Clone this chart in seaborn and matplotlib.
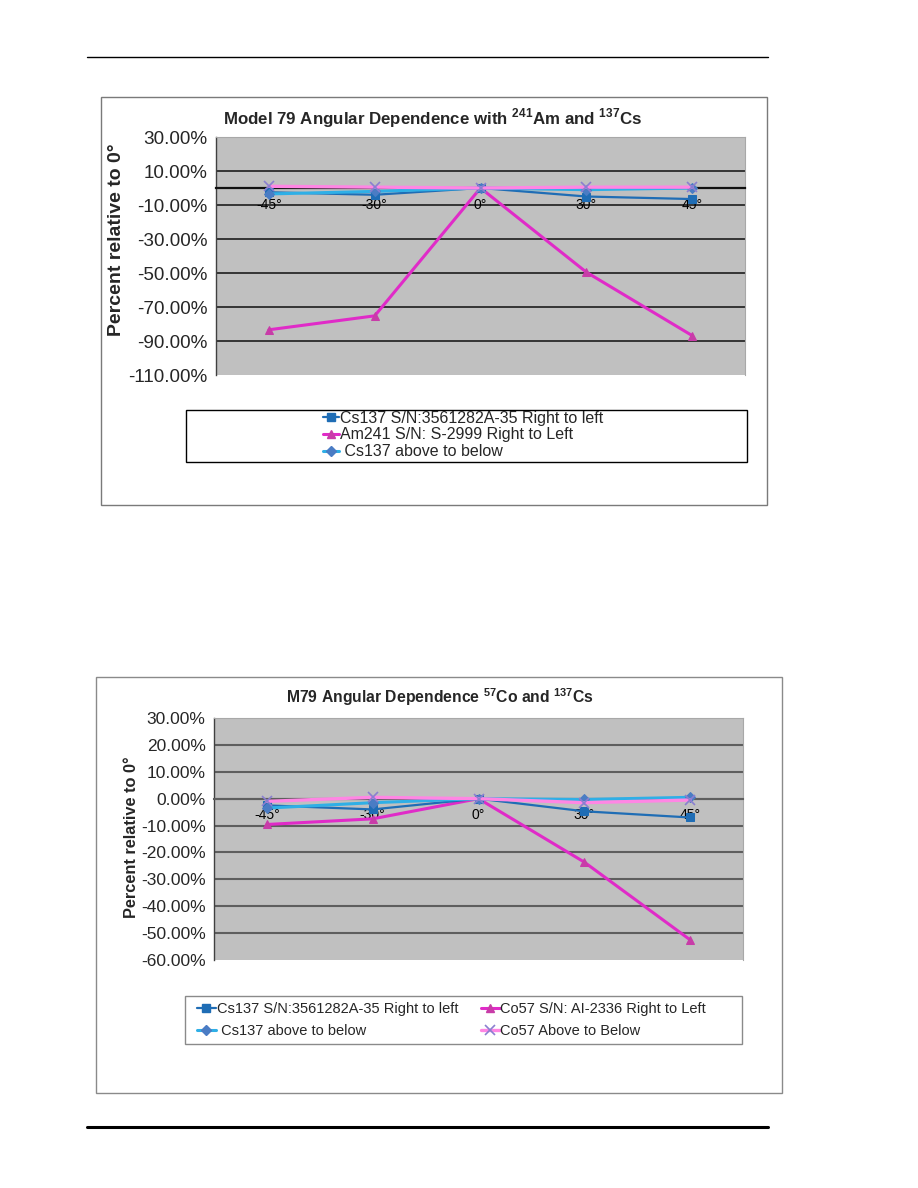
import numpy as np
import pandas as pd
import matplotlib
matplotlib.use("Agg")
import matplotlib.pyplot as plt
import seaborn as sns
from matplotlib.patches import Rectangle
from matplotlib.lines import Line2D

# ---------------- data ----------------
angles = ["-45°", "-30°", "0°", "30°", "45°"]

top_cs137_rl = [-2.5, -4.0, 0.0, -5.0, -6.5]
top_am241_rl = [-83.4, -75.2, 0.0, -49.5, -86.8]
top_cs137_ab = [-3.5, -2.0, 0.0, -1.0, 0.0]
top_co57_ab = [1.0, 0.5, 0.0, 0.5, 0.5]

bot_cs137_rl = [-2.5, -4.0, 0.0, -4.7, -7.0]
bot_co57_rl = [-9.6, -7.5, 0.0, -23.6, -52.5]
bot_cs137_ab = [-3.5, -1.5, 0.0, -0.3, 0.5]
bot_co57_ab = [-1.0, 0.5, 0.0, -1.5, -0.5]

top_yticks = [-110, -90, -70, -50, -30, -10, 10, 30]
bot_yticks = [-60, -50, -40, -30, -20, -10, 0, 10, 20, 30]

top_title = r"Model 79 Angular Dependence with $^{\mathbf{241}}$Am and $^{\mathbf{137}}$Cs"
bot_title = r"M79 Angular Dependence $^{\mathbf{57}}$Co and $^{\mathbf{137}}$Cs"
ylabel = "Percent relative to 0°"

top_labels = ["Cs137 S/N:3561282A-35 Right to left",
              "Am241 S/N: S-2999 Right to Left",
              " Cs137 above to below"]
bot_labels = ["Cs137 S/N:3561282A-35 Right to left",
              " Cs137 above to below",
              "Co57 S/N: AI-2336 Right to Left",
              "Co57 Above to Below"]

# ---------------- style ----------------
sns.set_style("white")
plt.rcParams["font.family"] = ["Liberation Sans", "DejaVu Sans"]
plt.rcParams["mathtext.fontset"] = "custom"
plt.rcParams["mathtext.rm"] = "Liberation Sans"
plt.rcParams["mathtext.bf"] = "Liberation Sans:bold"

DARKBLUE = "#1F6DB5"
MAGENTA = "#E02BC8"
LIGHTBLUE = "#2FAFE6"
PINK = "#FF86E4"

sty_rl = dict(color=DARKBLUE, marker="s", markersize=5.5, markerfacecolor=DARKBLUE,
              markeredgecolor=DARKBLUE, lw=1.6)
sty_mag = dict(color=MAGENTA, marker="^", markersize=6, markerfacecolor="#C83CA8",
               markeredgecolor="#C83CA8", lw=2.2)
sty_ab = dict(color=LIGHTBLUE, marker="D", markersize=5, markerfacecolor="#4A7CC4",
              markeredgecolor="#4A7CC4", lw=2.2)
sty_pk = dict(color=PINK, marker="x", markersize=7, markerfacecolor="#8A7FD0",
              markeredgecolor="#8A7FD0", markeredgewidth=1.2, lw=2.4)

W, H = 918, 1188
fig = plt.figure(figsize=(W / 100, H / 100), dpi=100)
fig.patch.set_facecolor("white")


def fx(x):
    return x / W


def fy(y):
    return 1 - y / H


# page rules
fig.add_artist(Line2D([fx(87), fx(768)], [fy(57), fy(57)], color="black", lw=1.0))
fig.add_artist(Line2D([fx(87), fx(768)], [fy(1127), fy(1127)], color="black", lw=2.2))

# outer chart boxes
fig.add_artist(Rectangle((fx(101), fy(505)), fx(666), 408 / H, transform=fig.transFigure,
                         fill=False, edgecolor="#7a7a7a", lw=1.0))
fig.add_artist(Rectangle((fx(96), fy(1093)), fx(686), 416 / H, transform=fig.transFigure,
                         fill=False, edgecolor="#8a8a8a", lw=1.0))


def setup_axes(ax, yticks, ysize, grid_color, grid_lw, zero_color, zero_lw):
    ax.set_facecolor("#C0C0C0")
    x = np.arange(len(angles))
    ax.set_xlim(-0.5, len(angles) - 0.5)
    ax.set_ylim(yticks[0], yticks[-1])
    ax.set_yticks(yticks)
    ax.set_yticklabels([f"{v:.2f}%" for v in yticks], fontsize=ysize)
    ax.set_xticks(x)
    ax.set_xticklabels(angles, fontsize=14)
    ax.tick_params(axis="both", length=0)
    ax.tick_params(axis="x", pad=7, labelcolor="black")
    ax.tick_params(axis="y", pad=6)
    ax.spines["bottom"].set_position(("data", 0))
    ax.spines["bottom"].set_color(zero_color)
    ax.spines["bottom"].set_linewidth(zero_lw)
    ax.spines["left"].set_color("#404040")
    ax.spines["left"].set_linewidth(1.0)
    for s in ("top", "right"):
        ax.spines[s].set_color("#a8a8a8")
        ax.spines[s].set_linewidth(0.8)
    ax.set_axisbelow(True)
    ax.yaxis.grid(True, color=grid_color, lw=grid_lw)
    ax.xaxis.grid(False)
    ax.xaxis.set_zorder(2.6)
    gl = ax.get_ygridlines()
    gl[0].set_visible(False)
    gl[-1].set_visible(False)
    ax.set_xlabel("")
    ax.set_ylabel("")


def draw(ax, vals, sty):
    x = np.arange(len(angles))
    df = pd.DataFrame({"angle": x, "value": vals})
    sns.lineplot(data=df, x="angle", y="value", ax=ax, sort=False, legend=False,
                 estimator=None, zorder=3, **sty)


# ---------------- top chart ----------------
ax1 = fig.add_axes([fx(216), fy(375), 529 / W, 238 / H])
draw(ax1, top_am241_rl, sty_mag)
draw(ax1, top_cs137_rl, sty_rl)
draw(ax1, top_cs137_ab, sty_ab)
draw(ax1, top_co57_ab, sty_pk)
setup_axes(ax1, top_yticks, 13.6, "#2a2a2a", 1.3, "#111111", 1.6)

fig.text(fx(433), fy(118), top_title, ha="center", va="center", fontsize=12.2,
         fontweight="bold")
fig.text(fx(117), fy(240), ylabel, ha="center", va="center", rotation=90,
         fontsize=14, fontweight="bold")

fig.add_artist(Rectangle((fx(186), fy(462)), 561 / W, 52 / H, transform=fig.transFigure,
                         facecolor="white", edgecolor="black", lw=1.0))
h_top = [Line2D([], [], **sty_rl), Line2D([], [], **sty_mag), Line2D([], [], **sty_ab)]
fig.legend(h_top, top_labels, loc="center", bbox_to_anchor=(fx(463), fy(435)),
           frameon=False, fontsize=11.5, handlelength=1.0, handletextpad=0.05,
           labelspacing=0.12, borderpad=0, borderaxespad=0)

# ---------------- bottom chart ----------------
ax2 = fig.add_axes([fx(214), fy(960), 529 / W, 242 / H])
draw(ax2, bot_co57_rl, sty_mag)
draw(ax2, bot_cs137_rl, sty_rl)
draw(ax2, bot_cs137_ab, sty_ab)
draw(ax2, bot_co57_ab, sty_pk)
setup_axes(ax2, bot_yticks, 12.5, "#5e5e5e", 1.5, "#5e5e5e", 1.5)

fig.text(fx(440), fy(697), bot_title, ha="center", va="center", fontsize=11.3,
         fontweight="bold")
fig.text(fx(131), fy(837), ylabel, ha="center", va="center", rotation=90,
         fontsize=11.8, fontweight="bold")

fig.add_artist(Rectangle((fx(185), fy(1044)), 557 / W, 48 / H, transform=fig.transFigure,
                         facecolor="white", edgecolor="#8a8a8a", lw=1.0))
h_bot = [Line2D([], [], **sty_rl), Line2D([], [], **sty_ab),
         Line2D([], [], **sty_mag), Line2D([], [], **sty_pk)]
fig.legend(h_bot, bot_labels, loc="center left", bbox_to_anchor=(fx(197), fy(1020)),
           ncol=2, frameon=False, fontsize=10.5, handlelength=1.3, handletextpad=0.05,
           labelspacing=0.55, columnspacing=1.55, borderpad=0, borderaxespad=0)

fig.savefig("out.png", dpi=100, facecolor="white")
